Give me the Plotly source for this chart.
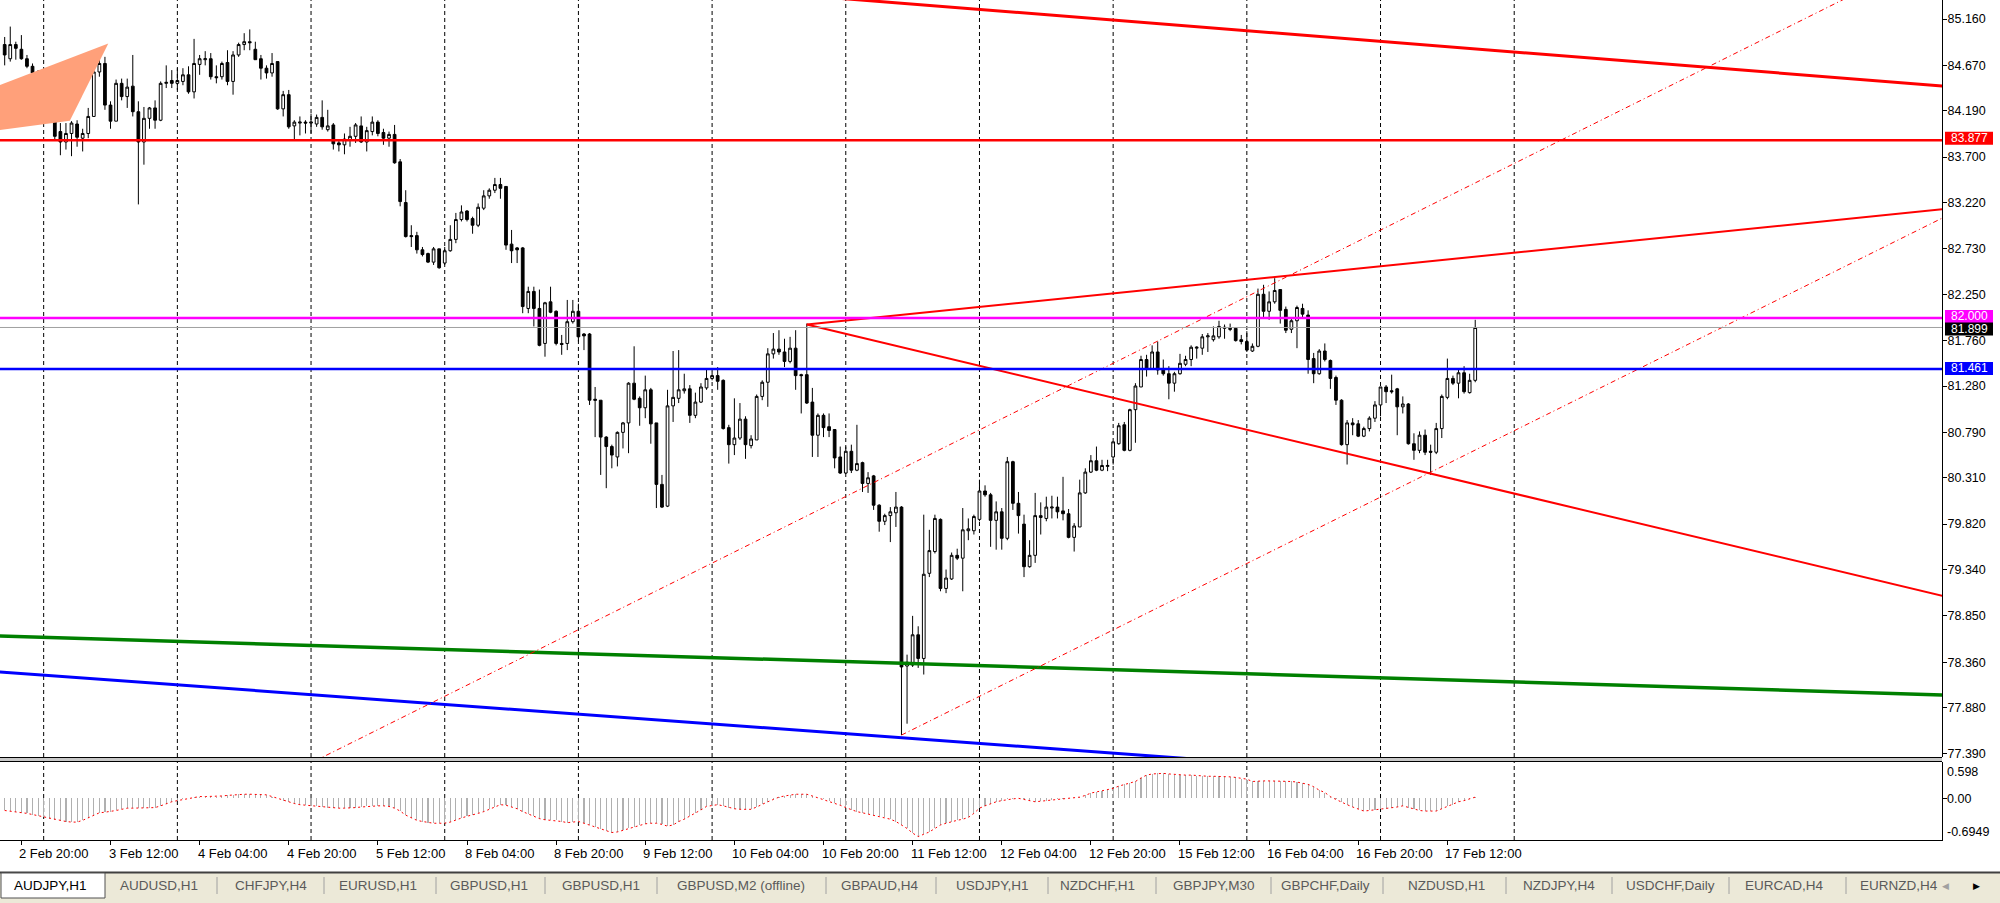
import plotly.graph_objects as go

# ---------------- data ----------------
opens = [
    84.89, 84.74, 84.89, 84.84, 84.74, 84.66, 84.59, 84.43, 84.11, 84.20,
    83.97, 83.86, 83.95, 84.05, 83.90, 83.95, 84.13, 84.60, 84.69, 84.25,
    84.08, 84.48, 84.34, 84.45, 84.18, 83.86, 84.11, 84.22, 84.09, 84.48,
    84.51, 84.48, 84.50, 84.57, 84.39, 84.68, 84.73, 84.74, 84.55, 84.55,
    84.70, 84.50, 84.78, 84.89, 84.92, 84.84, 84.74, 84.64, 84.59, 84.71,
    84.21, 84.36, 84.03, 84.06, 84.07, 84.06, 84.05, 84.12, 83.99, 84.04,
    83.85, 83.83, 83.88, 83.92, 84.03, 83.86, 83.97, 84.07, 83.96, 83.90,
    83.94, 83.65, 83.22, 82.87, 82.87, 82.72, 82.68, 82.59, 82.73, 82.58,
    82.71, 82.83, 83.04, 83.13, 83.05, 82.98, 83.16, 83.29, 83.35, 83.41,
    83.39, 82.78, 82.74, 82.74, 82.10, 82.28, 82.10, 81.73, 82.17, 82.07,
    81.73, 81.73, 81.96, 82.07, 81.83, 81.83, 81.14, 81.13, 80.74, 80.64,
    80.53, 80.79, 80.89, 81.31, 81.15, 81.05, 81.24, 80.89, 80.24, 80.01,
    81.07, 81.15, 81.23, 81.25, 80.97, 81.11, 81.26, 81.36, 81.39, 81.34,
    80.84, 80.66, 80.73, 80.93, 80.65, 80.71, 81.17, 81.32, 81.62, 81.67,
    81.64, 81.54, 81.68, 81.40, 81.40, 81.11, 80.76, 80.97, 80.85, 80.82,
    80.53, 80.36, 80.59, 80.39, 80.47, 80.25, 80.33, 80.02, 79.85, 79.91,
    79.94, 80.00, 78.32, 78.33, 78.65, 78.40, 79.30, 79.53, 79.87, 79.14,
    79.24, 79.49, 79.46, 79.75, 79.75, 79.87, 80.17, 80.13, 79.86, 79.95,
    79.67, 80.48, 80.04, 79.82, 79.37, 79.49, 79.89, 79.88, 79.99, 80.00,
    79.96, 79.93, 79.68, 79.79, 80.15, 80.37, 80.49, 80.39, 80.43, 80.53,
    80.67, 80.87, 80.60, 81.03, 81.27, 81.56, 81.46, 81.64, 81.46, 81.41,
    81.31, 81.41, 81.51, 81.56, 81.68, 81.68, 81.80, 81.77, 81.80, 81.89,
    81.89, 81.89, 81.77, 81.75, 81.65, 81.70, 82.25, 82.07, 82.17, 82.30,
    82.09, 81.88, 81.97, 82.10, 82.03, 81.57, 81.41, 81.65, 81.55, 81.37,
    81.13, 80.66, 80.89, 80.88, 80.75, 80.83, 80.94, 81.08, 81.27, 81.23,
    81.25, 81.06, 81.09, 80.67, 80.60, 80.76, 80.59, 80.58, 80.83, 81.16,
    81.36, 81.31, 81.42, 81.21, 81.34,
]
highs = [
    84.97, 85.08, 84.92, 84.99, 84.78, 84.69, 84.62, 84.62, 84.32, 84.45,
    84.06, 84.06, 84.08, 84.09, 84.00, 84.22, 84.62, 84.76, 84.76, 84.29,
    84.52, 84.53, 84.53, 84.78, 84.29, 84.23, 84.23, 84.30, 84.50, 84.67,
    84.62, 84.64, 84.64, 84.66, 84.95, 84.78, 84.82, 84.80, 84.67, 84.71,
    84.83, 84.82, 84.91, 85.01, 85.05, 84.92, 84.78, 84.67, 84.80, 84.71,
    84.40, 84.41, 84.09, 84.13, 84.09, 84.16, 84.15, 84.30, 84.20, 84.06,
    83.88, 83.95, 84.02, 84.06, 84.13, 84.02, 84.13, 84.09, 84.00, 83.97,
    84.04, 83.68, 83.35, 82.98, 82.91, 82.75, 82.69, 82.75, 82.73, 82.75,
    82.98, 83.11, 83.19, 83.14, 83.07, 83.21, 83.35, 83.37, 83.48, 83.48,
    83.39, 82.93, 82.75, 82.75, 82.33, 82.33, 82.30, 82.17, 82.33, 82.08,
    81.82, 82.19, 82.19, 82.15, 81.84, 81.84, 81.27, 81.13, 80.75, 80.66,
    80.80, 80.90, 81.32, 81.70, 81.17, 81.39, 81.26, 80.89, 80.34, 81.24,
    81.65, 81.66, 81.41, 81.29, 81.21, 81.31, 81.46, 81.43, 81.48, 81.35,
    80.87, 81.15, 81.10, 80.96, 80.76, 81.19, 81.34, 81.68, 81.84, 81.87,
    81.78, 81.80, 81.87, 81.41, 81.94, 81.26, 80.99, 80.99, 80.99, 80.82,
    80.64, 80.64, 80.66, 80.87, 80.48, 80.37, 80.34, 80.03, 79.93, 80.00,
    80.16, 80.01, 78.44, 78.85, 78.74, 79.92, 79.76, 79.92, 79.88, 79.34,
    79.52, 79.56, 79.99, 79.88, 79.92, 80.29, 80.23, 80.15, 80.06, 79.99,
    80.53, 80.49, 80.16, 79.92, 79.65, 80.15, 80.05, 80.11, 80.12, 80.11,
    80.32, 79.98, 79.83, 80.29, 80.41, 80.55, 80.64, 80.50, 80.50, 80.69,
    80.89, 80.90, 81.04, 81.31, 81.60, 81.61, 81.71, 81.75, 81.56, 81.49,
    81.43, 81.62, 81.60, 81.71, 81.70, 81.83, 81.84, 81.91, 81.97, 81.93,
    81.94, 81.90, 81.82, 81.86, 81.73, 82.31, 82.35, 82.28, 82.42, 82.30,
    82.12, 81.99, 82.13, 82.15, 82.08, 81.63, 81.67, 81.73, 81.56, 81.39,
    81.14, 80.92, 80.94, 80.92, 80.85, 80.96, 81.12, 81.27, 81.29, 81.40,
    81.26, 81.17, 81.10, 80.78, 80.80, 80.82, 80.66, 80.89, 81.19, 81.57,
    81.39, 81.45, 81.49, 81.41, 81.98,
]
lows = [
    84.67, 84.71, 84.73, 84.73, 84.64, 84.52, 84.41, 84.09, 84.08, 83.88,
    83.72, 83.78, 83.71, 83.81, 83.76, 83.90, 84.13, 84.55, 84.20, 84.00,
    84.08, 84.30, 84.22, 84.13, 83.20, 83.62, 84.00, 84.00, 84.08, 84.43,
    84.43, 84.41, 84.46, 84.37, 84.32, 84.57, 84.67, 84.52, 84.48, 84.52,
    84.46, 84.36, 84.76, 84.83, 84.83, 84.73, 84.52, 84.53, 84.55, 84.20,
    84.13, 84.00, 83.89, 83.93, 83.95, 83.95, 84.02, 83.99, 83.97, 83.78,
    83.76, 83.73, 83.81, 83.85, 83.85, 83.76, 83.93, 83.92, 83.83, 83.81,
    83.63, 83.18, 82.85, 82.75, 82.68, 82.65, 82.58, 82.56, 82.52, 82.56,
    82.70, 82.79, 83.02, 83.02, 82.89, 82.96, 83.14, 83.26, 83.32, 83.26,
    82.72, 82.58, 82.58, 82.05, 82.05, 81.91, 81.70, 81.59, 82.05, 81.71,
    81.61, 81.66, 81.94, 81.75, 81.66, 81.08, 80.74, 80.34, 80.20, 80.41,
    80.43, 80.62, 80.57, 81.13, 80.86, 80.94, 80.67, 79.99, 79.99, 80.00,
    80.90, 81.10, 81.20, 80.89, 80.94, 81.10, 81.24, 81.34, 81.24, 80.82,
    80.46, 80.55, 80.71, 80.51, 80.62, 80.71, 81.13, 81.06, 81.57, 81.61,
    81.48, 81.52, 81.24, 80.99, 81.09, 80.53, 80.53, 80.74, 80.74, 80.41,
    80.35, 80.35, 80.36, 80.38, 80.16, 80.15, 79.97, 79.74, 79.81, 79.63,
    79.79, 77.59, 77.71, 78.31, 78.30, 78.23, 79.26, 79.51, 79.11, 79.09,
    79.23, 79.44, 79.11, 79.65, 79.71, 79.85, 80.11, 79.58, 79.55, 79.55,
    79.65, 79.97, 79.72, 79.26, 79.36, 79.41, 79.71, 79.85, 79.88, 79.88,
    79.86, 79.67, 79.53, 79.79, 80.14, 80.36, 80.38, 80.38, 80.38, 80.45,
    80.66, 80.59, 80.59, 80.68, 81.27, 81.38, 81.45, 81.40, 81.39, 81.14,
    81.22, 81.40, 81.49, 81.49, 81.57, 81.61, 81.64, 81.75, 81.78, 81.78,
    81.86, 81.75, 81.72, 81.64, 81.64, 81.69, 82.01, 81.98, 82.15, 81.94,
    81.84, 81.84, 81.68, 82.01, 81.41, 81.31, 81.40, 81.54, 81.25, 81.08,
    80.65, 80.45, 80.76, 80.74, 80.74, 80.80, 80.90, 80.96, 81.10, 81.20,
    80.76, 80.99, 80.66, 80.50, 80.57, 80.55, 80.34, 80.56, 80.73, 81.14,
    81.29, 81.15, 81.20, 81.20, 81.32,
]
closes = [
    84.78, 84.89, 84.85, 84.74, 84.66, 84.59, 84.43, 84.11, 84.20, 83.92,
    83.86, 83.95, 84.06, 83.91, 83.95, 84.13, 84.60, 84.69, 84.25, 84.08,
    84.48, 84.34, 84.44, 84.18, 83.86, 84.11, 84.22, 84.09, 84.48, 84.49,
    84.48, 84.51, 84.57, 84.39, 84.69, 84.74, 84.74, 84.55, 84.54, 84.69,
    84.50, 84.78, 84.89, 84.92, 84.91, 84.73, 84.64, 84.59, 84.69, 84.21,
    84.36, 84.02, 84.07, 84.07, 84.06, 84.07, 84.12, 84.02, 84.03, 83.84,
    83.83, 83.89, 83.92, 84.04, 83.86, 83.98, 84.07, 83.95, 83.90, 83.94,
    83.64, 83.23, 82.86, 82.86, 82.72, 82.67, 82.59, 82.73, 82.53, 82.71,
    82.83, 83.04, 83.12, 83.04, 82.98, 83.17, 83.29, 83.35, 83.41, 83.37,
    82.77, 82.71, 82.72, 82.12, 82.28, 82.10, 81.71, 82.16, 82.06, 81.73,
    81.72, 81.96, 82.07, 81.80, 81.81, 81.13, 81.13, 80.74, 80.64, 80.55,
    80.79, 80.89, 81.31, 81.14, 81.05, 81.24, 80.88, 80.24, 80.00, 81.07,
    81.16, 81.24, 81.25, 80.97, 81.11, 81.27, 81.36, 81.39, 81.33, 80.83,
    80.66, 80.73, 80.93, 80.66, 80.72, 81.17, 81.32, 81.62, 81.67, 81.64,
    81.54, 81.68, 81.39, 81.39, 81.10, 80.76, 80.97, 80.84, 80.81, 80.52,
    80.36, 80.59, 80.39, 80.46, 80.25, 80.31, 80.02, 79.85, 79.91, 79.95,
    80.00, 78.31, 78.36, 78.65, 78.40, 79.29, 79.54, 79.88, 79.14, 79.25,
    79.49, 79.46, 79.76, 79.77, 79.90, 80.17, 80.13, 79.86, 79.95, 79.67,
    80.48, 80.04, 79.91, 79.37, 79.49, 79.91, 79.91, 80.00, 80.00, 79.95,
    79.93, 79.68, 79.80, 80.15, 80.37, 80.49, 80.39, 80.44, 80.44, 80.69,
    80.86, 80.60, 81.03, 81.28, 81.56, 81.46, 81.64, 81.45, 81.41, 81.31,
    81.41, 81.52, 81.56, 81.69, 81.69, 81.80, 81.81, 81.81, 81.91, 81.90,
    81.88, 81.76, 81.75, 81.66, 81.70, 82.25, 82.07, 82.17, 82.29, 82.08,
    81.87, 81.97, 82.11, 82.04, 81.56, 81.41, 81.65, 81.56, 81.36, 81.13,
    80.66, 80.89, 80.87, 80.75, 80.83, 80.94, 81.08, 81.27, 81.22, 81.22,
    81.06, 81.09, 80.67, 80.60, 80.76, 80.58, 80.58, 80.83, 81.17, 81.36,
    81.31, 81.42, 81.22, 81.34, 81.899,
]
macd_values = [
    -0.21, -0.22, -0.23, -0.25, -0.26, -0.28, -0.30, -0.32, -0.35, -0.37,
    -0.39, -0.40, -0.41, -0.41, -0.38, -0.34, -0.29, -0.25, -0.24, -0.23,
    -0.21, -0.19, -0.17, -0.17, -0.17, -0.17, -0.16, -0.16, -0.13, -0.09,
    -0.06, -0.04, -0.02, 0.00, 0.02, 0.03, 0.03, 0.03, 0.03, 0.04,
    0.05, 0.06, 0.07, 0.07, 0.07, 0.07, 0.07, 0.06, 0.03, 0.00,
    -0.04, -0.06, -0.09, -0.11, -0.12, -0.13, -0.14, -0.15, -0.16, -0.16,
    -0.17, -0.17, -0.17, -0.16, -0.15, -0.14, -0.14, -0.13, -0.13, -0.14,
    -0.17, -0.22, -0.29, -0.34, -0.38, -0.40, -0.42, -0.43, -0.43, -0.43,
    -0.41, -0.37, -0.34, -0.31, -0.29, -0.26, -0.23, -0.19, -0.15, -0.11,
    -0.12, -0.15, -0.18, -0.23, -0.27, -0.31, -0.35, -0.37, -0.38, -0.38,
    -0.40, -0.42, -0.41, -0.40, -0.43, -0.46, -0.50, -0.53, -0.56, -0.59,
    -0.58, -0.55, -0.52, -0.50, -0.46, -0.44, -0.43, -0.43, -0.45, -0.48,
    -0.46, -0.40, -0.36, -0.31, -0.26, -0.20, -0.14, -0.13, -0.11, -0.13,
    -0.16, -0.18, -0.19, -0.19, -0.19, -0.15, -0.10, -0.06, -0.02, 0.02,
    0.04, 0.06, 0.07, 0.07, 0.07, 0.04, 0.01, -0.02, -0.05, -0.08,
    -0.12, -0.16, -0.20, -0.23, -0.25, -0.27, -0.29, -0.31, -0.33, -0.36,
    -0.40, -0.46, -0.52, -0.60, -0.66, -0.62, -0.58, -0.52, -0.46, -0.43,
    -0.40, -0.38, -0.36, -0.33, -0.26, -0.17, -0.13, -0.09, -0.06, -0.04,
    -0.02, -0.01, 0.00, -0.02, -0.04, -0.06, -0.05, -0.04, -0.03, -0.02,
    -0.01, 0.00, 0.01, 0.02, 0.05, 0.09, 0.11, 0.13, 0.14, 0.17,
    0.21, 0.24, 0.26, 0.29, 0.35, 0.40, 0.42, 0.43, 0.43, 0.42,
    0.41, 0.41, 0.40, 0.40, 0.39, 0.39, 0.38, 0.38, 0.38, 0.37,
    0.37, 0.36, 0.34, 0.33, 0.29, 0.30, 0.30, 0.30, 0.30, 0.30,
    0.29, 0.29, 0.28, 0.26, 0.24, 0.20, 0.14, 0.10, 0.03, -0.02,
    -0.07, -0.11, -0.15, -0.19, -0.22, -0.21, -0.20, -0.19, -0.18, -0.17,
    -0.15, -0.13, -0.16, -0.19, -0.21, -0.22, -0.22, -0.22, -0.18, -0.14,
    -0.11, -0.06, -0.04, -0.01, 0.02,
]
bars = list(range(len(closes)))
assert len(opens) == len(highs) == len(lows) == len(closes) == len(macd_values) == 265

price_ticks = [85.160, 84.670, 84.190, 83.700, 83.220, 82.730, 82.250, 81.760, 81.280,
               80.790, 80.310, 79.820, 79.340, 78.850, 78.360, 77.880, 77.390]
time_label_bars = [3, 19, 35, 51, 67, 83, 99, 115, 131, 147, 163, 179, 195, 211, 227, 243, 259]
time_labels = ["2 Feb 20:00", "3 Feb 12:00", "4 Feb 04:00", "4 Feb 20:00", "5 Feb 12:00",
               "8 Feb 04:00", "8 Feb 20:00", "9 Feb 12:00", "10 Feb 04:00", "10 Feb 20:00",
               "11 Feb 12:00", "12 Feb 04:00", "12 Feb 20:00", "15 Feb 12:00", "16 Feb 04:00",
               "16 Feb 20:00", "17 Feb 12:00"]
midnight_bars = [7, 31, 55, 79, 103, 127, 151, 175, 199, 223, 247, 271]

red_level = 83.877
magenta_level = 82.000
bid_level = 81.899
blue_level = 81.461

top_line_bars = [140, 348]
top_line_prices = [85.425, 84.451]
fan_bars = [144, 348]
fan_up_prices = [81.93, 83.15]
fan_dn_prices = [81.93, 79.06]
chan1_bars = [50, 340]
chan1_prices = [77.149, 85.657]
chan2_bars = [161, 348]
chan2_prices = [77.59, 83.06]
green_bars = [-1, 348]
green_prices = [78.638, 78.014]
blue_tl_bars = [-1, 215]
blue_tl_prices = [78.258, 77.33]
tri_bars = [-33.0, 18.6, 11.7, -33.0]
tri_prices = [83.735, 84.902, 84.085, 83.735]

macd_labels = ["0.598", "0.00", "-0.6949"]

tab_names = ["AUDJPY,H1", "AUDUSD,H1", "CHFJPY,H4", "EURUSD,H1", "GBPUSD,H1", "GBPUSD,H1",
             "GBPUSD,M2 (offline)", "GBPAUD,H4", "USDJPY,H1", "NZDCHF,H1", "GBPJPY,M30",
             "GBPCHF,Daily", "NZDUSD,H1", "NZDJPY,H4", "USDCHF,Daily", "EURCAD,H4", "EURNZD,H4"]

# ---------------- layout constants ----------------
W, H = 2000, 903
PLOT_W, PLOT_H = 1942, 840
MAIN_BOTTOM_PX = 757
IND_TOP_PX = 762
PX_PER_PRICE = 94.59
FONT = "Liberation Sans, Arial, sans-serif"

tab_centers_px = [50, 159, 271, 378, 489, 601, 741, 880, 992, 1097, 1214, 1325, 1446,
                  1559, 1670, 1784, 1899]
tab_seps_px = [217, 324, 436, 545, 657, 826, 936, 1048, 1156, 1271, 1383, 1506, 1612, 1729, 1846]


def px(X):
    return X / PLOT_W


def py(Y):
    return (PLOT_H - Y) / PLOT_H


main_dom = [py(MAIN_BOTTOM_PX), 1.0]
ind_dom = [0.0, py(IND_TOP_PX)]
xr = [-0.84, 347.8]

fig = go.Figure()

# triangle (background object)
fig.add_trace(go.Scatter(x=tri_bars, y=tri_prices, fill="toself", mode="lines",
                         line=dict(width=0, color="#FFA07A"), fillcolor="#FFA07A",
                         hoverinfo="skip", xaxis="x", yaxis="y"))

fig.add_trace(go.Candlestick(
    x=bars, open=opens, high=highs, low=lows, close=closes,
    increasing=dict(line=dict(color="black", width=1), fillcolor="white"),
    decreasing=dict(line=dict(color="black", width=1), fillcolor="black"),
    whiskerwidth=0, hoverinfo="skip", xaxis="x", yaxis="y"))


def tline(xs, ys, color, width, dash="solid"):
    fig.add_trace(go.Scatter(x=xs, y=ys, mode="lines", line=dict(color=color, width=width, dash=dash),
                             hoverinfo="skip", xaxis="x", yaxis="y"))


tline(green_bars, green_prices, "#008000", 3.5)
tline(blue_tl_bars, blue_tl_prices, "#0000FF", 3)
tline(chan1_bars, chan1_prices, "#FF0000", 1, "5px,3px,1px,3px")
tline(chan2_bars, chan2_prices, "#FF0000", 1, "5px,3px,1px,3px")
tline(top_line_bars, top_line_prices, "#FF0000", 3)
tline(fan_bars, fan_up_prices, "#FF0000", 2)
tline(fan_bars, fan_dn_prices, "#FF0000", 2)

# MACD panel
fig.add_trace(go.Bar(x=bars, y=macd_values, width=0.2, marker=dict(color="#B0B0B0", line=dict(width=0)),
                     hoverinfo="skip", xaxis="x2", yaxis="y2"))
fig.add_trace(go.Scatter(x=bars, y=macd_values, mode="lines",
                         line=dict(color="#FF0000", width=1, dash="2px,3px"),
                         hoverinfo="skip", xaxis="x2", yaxis="y2"))

shapes = []
# vertical dashed grid
for xb in midnight_bars:
    for y0, y1 in (main_dom, ind_dom):
        shapes.append(dict(type="line", xref="x", yref="paper", x0=xb, x1=xb, y0=y0, y1=y1,
                           line=dict(color="black", width=1, dash="4px,3px"), layer="below"))

# horizontal levels
for lvl, col, wd in ((red_level, "#FF0000", 2.5), (magenta_level, "#FF00FF", 2.5),
                     (bid_level, "#A0A0A0", 1), (blue_level, "#0000FF", 2.5)):
    shapes.append(dict(type="line", xref="paper", yref="y", x0=0, x1=1, y0=lvl, y1=lvl,
                       line=dict(color=col, width=wd)))

# price boxes on the right scale (label boxes nudged like MT4 does so they don't overlap)
annotations = []
for lvl, col, shift in ((red_level, "#FF0000", 2), (magenta_level, "#FF00FF", 1.5),
                        (bid_level, "#000000", -1.5), (blue_level, "#0000FF", 0.5)):
    yc = lvl + shift / PX_PER_PRICE
    hb = 6.5 / PX_PER_PRICE
    shapes.append(dict(type="rect", xref="paper", yref="y", x0=px(1945), x1=px(1993),
                       y0=yc - hb, y1=yc + hb, fillcolor=col, line=dict(width=0)))
    annotations.append(dict(xref="paper", yref="y", x=px(1969), y=yc, xanchor="center",
                            yanchor="middle", text=f"{lvl:.3f}", showarrow=False, borderpad=0,
                            font=dict(family=FONT, size=12, color="white")))

# panel separator (double line)
shapes.append(dict(type="rect", xref="paper", yref="paper", x0=0, x1=1, y0=py(761), y1=py(758),
                   fillcolor="#C8C8C8", line=dict(width=0)))
shapes.append(dict(type="line", xref="paper", yref="paper", x0=0, x1=1, y0=py(757.5), y1=py(757.5),
                   line=dict(color="black", width=1)))
shapes.append(dict(type="line", xref="paper", yref="paper", x0=0, x1=1, y0=py(761.5), y1=py(761.5),
                   line=dict(color="black", width=1)))

# tab strip
shapes.append(dict(type="rect", xref="paper", yref="paper", x0=0, x1=W / PLOT_W, y0=py(H), y1=py(872),
                   fillcolor="#ECE9D8", line=dict(width=0)))
shapes.append(dict(type="line", xref="paper", yref="paper", x0=0, x1=W / PLOT_W, y0=py(872.5), y1=py(872.5),
                   line=dict(color="#404040", width=2)))
shapes.append(dict(type="rect", xref="paper", yref="paper", x0=px(1), x1=px(105), y0=py(898), y1=py(873),
                   fillcolor="white", line=dict(color="#505050", width=1)))
for sx in tab_seps_px:
    shapes.append(dict(type="line", xref="paper", yref="paper", x0=px(sx), x1=px(sx), y0=py(894), y1=py(877),
                       line=dict(color="#A0A0A0", width=1)))

# MACD scale labels
for lab, ypx in zip(macd_labels, (772, 799, 832)):
    annotations.append(dict(xref="paper", yref="paper", x=px(1945), y=py(ypx), xanchor="left",
                            yanchor="middle", text=lab, showarrow=False,
                            font=dict(family=FONT, size=12.5, color="black")))
# time labels (MT4 draws them starting at the tick)
for tb, lab in zip(time_label_bars, time_labels):
    annotations.append(dict(xref="x2", yref="paper", x=tb, y=py(853), xanchor="left", xshift=-4,
                            yanchor="middle", text=lab, showarrow=False,
                            font=dict(family=FONT, size=13, color="black")))
# tabs
for i, (name, cx) in enumerate(zip(tab_names, tab_centers_px)):
    annotations.append(dict(xref="paper", yref="paper", x=px(cx), y=py(885.5), xanchor="center",
                            yanchor="middle", text=name, showarrow=False,
                            font=dict(family=FONT, size=13.5, color="black" if i == 0 else "#5A5A5A")))
annotations.append(dict(xref="paper", yref="paper", x=px(1945), y=py(885.5), xanchor="center",
                        yanchor="middle", text="◀", showarrow=False,
                        font=dict(family="DejaVu Sans", size=9, color="#A0A0A0")))
annotations.append(dict(xref="paper", yref="paper", x=px(1976), y=py(885.5), xanchor="center",
                        yanchor="middle", text="▶", showarrow=False,
                        font=dict(family="DejaVu Sans", size=9, color="black")))

fig.update_layout(
    width=W, height=H,
    margin=dict(l=0, r=W - PLOT_W, t=0, b=H - PLOT_H, pad=0, autoexpand=False),
    paper_bgcolor="white", plot_bgcolor="white", showlegend=False, hovermode=False,
    xaxis=dict(domain=[0, 1], range=xr, anchor="y", showticklabels=False, ticks="", showgrid=False,
               zeroline=False, showline=False, rangeslider=dict(visible=False), automargin=False),
    xaxis2=dict(domain=[0, 1], range=xr, anchor="y2", showgrid=False, zeroline=False,
                showline=True, linecolor="black", linewidth=1, automargin=False,
                tickmode="array", tickvals=time_label_bars, ticktext=[""] * len(time_label_bars),
                ticks="outside", ticklen=4, tickcolor="black"),
    yaxis=dict(domain=main_dom, range=[77.358, 85.361], anchor="x", side="right", showgrid=False,
               zeroline=False, showline=True, linecolor="black", linewidth=1, automargin=False,
               tickmode="array", tickvals=price_ticks, ticktext=[f"{v:.3f}" for v in price_ticks],
               ticks="outside", ticklen=4, tickcolor="black", ticklabelstandoff=-2,
               tickfont=dict(family=FONT, size=12.5, color="black")),
    yaxis2=dict(domain=ind_dom, range=[-0.719, 0.626], anchor="x2", side="right", showgrid=False,
                zeroline=False, showline=True, linecolor="black", linewidth=1, automargin=False,
                tickmode="array", tickvals=[0], ticktext=[""], ticks="outside", ticklen=4,
                tickcolor="black"),
    shapes=shapes, annotations=annotations, bargap=0,
)

# the page's default 8px body margin would shift the 2000x903 figure; remove it
fig.write_html("out.html", config={"displayModeBar": False, "staticPlot": True},
               post_script="document.body.style.margin='0';document.body.style.overflow='hidden';")
